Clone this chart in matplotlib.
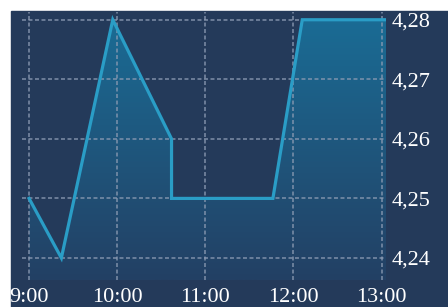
import numpy as np
import matplotlib
matplotlib.use("Agg")
import matplotlib.pyplot as plt
from matplotlib.patches import Rectangle, Polygon

# intraday price, times
times = ["9:00", "9:22", "9:57", "10:37", "10:37", "11:46", "12:06", "13:03"]
prices = [4.25, 4.24, 4.28, 4.26, 4.25, 4.25, 4.28, 4.28]
tick_times = ["9:00", "10:00", "11:00", "12:00", "13:00"]
y_ticks = [4.24, 4.25, 4.26, 4.27, 4.28]
y_labels = ["4,24", "4,25", "4,26", "4,27", "4,28"]


def to_hours(t):
    h, m = t.split(":")
    return int(h) + int(m) / 60


x = np.array([to_hours(t) for t in times])
y = np.array(prices)

bg = "#243a5a"
line_c = "#2a9dc6"

fig = plt.figure(figsize=(4.48, 3.07), dpi=100)
fig.patch.set_facecolor("white")
fig.patches.append(Rectangle((11 / 448, 0), 1, (307 - 11) / 307,
                             transform=fig.transFigure, color=bg, zorder=-10))

ax = fig.add_axes([22 / 448, 27 / 307, (386 - 22) / 448, (280 - 12) / 307])
ax.set_zorder(1)
ax.set_facecolor(bg)
ymin, ymax = 4.2363, 4.2813
ax.set_xlim(x[0] - 4.8 / 60, x[-1])
ax.set_ylim(ymin, ymax)

# gradient fill under the line
verts = [(x[0], ymin)] + list(zip(x, y)) + [(x[-1], ymin)]
poly = Polygon(verts, closed=True, facecolor="none", edgecolor="none")
ax.add_patch(poly)
grad = np.linspace(0, 1, 256).reshape(-1, 1)
cmap = matplotlib.colors.LinearSegmentedColormap.from_list("g", ["#1a6d96", "#234064"])
im = ax.imshow(grad, cmap=cmap, aspect="auto", origin="upper",
               extent=[x[0], x[-1], ymin, ymax], zorder=1)
im.set_clip_path(poly)

ax.plot(x, y, color=line_c, lw=2.3, zorder=3, solid_joinstyle="miter")

ax.set_xticks([to_hours(t) for t in tick_times])
ax.set_xticklabels(tick_times)
ax.set_yticks(y_ticks)
ax.set_yticklabels(y_labels)
ax.yaxis.tick_right()
ax.tick_params(length=0, colors="white", labelsize=16)
ax.tick_params(axis="x", pad=6)
ax.tick_params(axis="y", pad=4)
for lab in ax.get_xticklabels() + ax.get_yticklabels():
    lab.set_fontfamily("Liberation Serif")

ax.grid(True, color="#8a9ab2", lw=1.3, ls=(0, (2.2, 1.4)), alpha=0.75, zorder=2)
ax.set_axisbelow(False)
for s in ax.spines.values():
    s.set_visible(False)

fig.savefig("out.png", dpi=100)
